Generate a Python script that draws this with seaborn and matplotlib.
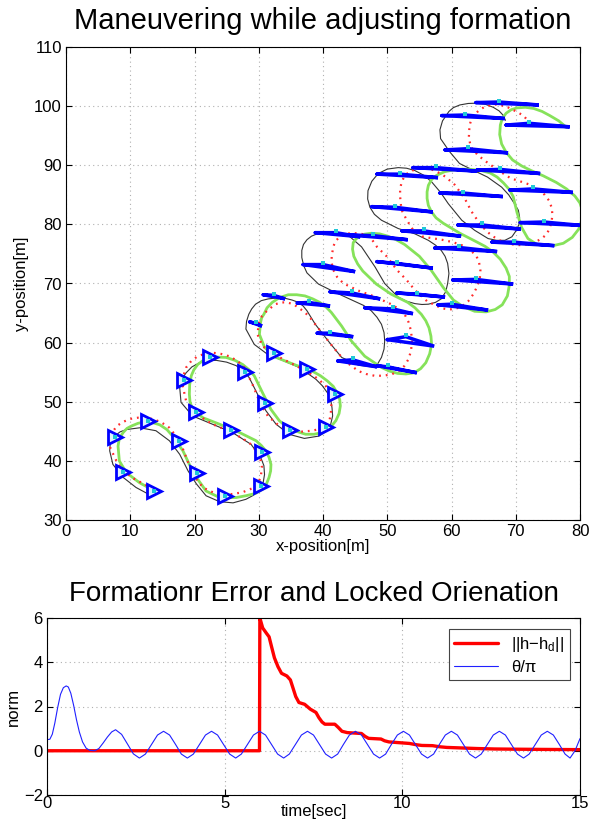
import numpy as np
import pandas as pd
import matplotlib
matplotlib.use("Agg")
import matplotlib.pyplot as plt
import seaborn as sns

# ---------------- top panel data (metres) ----------------
black_x = [13.3,10.9,8.9,7.3,6.8,6.9,7.6,8.4,9.4,11.5,14.0,16.1,17.7,19.0,20.3,21.8,23.9,26.0,28.0,29.2,
           30.1,30.7,30.9,30.8,30.3,28.8,25.9,22.8,19.7,17.9,17.7,18.0,18.7,19.6,20.8,22.0,23.4,25.0,26.5,27.6,28.5,29.8,31.1,32.7,34.7,37.1,39.4,40.5,41.2,41.5,41.4,41.2,40.7,39.9,38.9,36.3,33.7,31.4,29.3,28.0,
           28.1,28.45,28.9,29.5,30.4,31.5,32.8,34.1,35.2,36.2,36.9,37.5,38.8,40.8,42.9,45.5,47.5,48.5,49.1,49.5,49.6,49.5,49.1,48.4,47.5,46.3,44.9,41.9,39.3,37.5,37.0,36.7,36.7,36.96,37.5,38.2,39.2,40.3,41.6,42.9,
           44.2,46.0,48.1,49.6,51.7,53.0,54.3,55.4,56.4,57.5,58.4,59.1,59.4,59.6,59.4,59.0,58.4,57.5,56.4,54.3,51.7,49.1,48.0,47.3,46.95,47.0,47.6,48.6,50.0,51.7,53.0,54.3,55.7,56.9,58.3,59.5,61.6,63.6,65.7,67.0,68.3,69.4,70.1,70.5,70.6,70.4,69.8,68.9,67.8,
           65.6,63.3,61.25,59.7,58.3,58.2,58.6,59.6,60.3,61.3,62.6,63.85,65.3,66.5,67.4,68.0,68.4]
black_y = [34.1,35.5,37.2,39.4,41.7,43.1,44.2,44.9,45.3,45.6,45.1,43.4,41.1,38.3,36.1,34.1,33.1,32.9,33.5,34.2,
           35.2,36.4,37.7,39.2,40.6,42.8,44.8,46.2,47.6,49.9,52.4,53.8,54.9,55.9,56.6,56.95,57.0,56.7,56.1,55.2,54.1,51.3,48.5,46.2,44.5,43.8,44.2,45.0,46.2,47.6,49.0,50.3,51.5,52.7,53.8,55.8,57.0,58.0,59.7,62.3,
           63.6,64.8,65.7,66.5,67.1,67.4,67.55,67.5,67.2,66.8,66.2,65.4,63.1,60.3,57.5,56.2,55.9,56.4,57.5,58.9,60.3,61.7,63.1,64.3,65.4,66.3,67.0,68.5,69.9,71.8,73.0,74.4,75.6,76.6,77.4,78.0,78.45,78.6,78.55,78.3,
           77.9,76.2,72.8,70.0,67.7,67.0,66.6,66.45,66.5,66.8,67.4,68.6,70.0,71.7,73.4,74.6,75.6,76.5,77.3,78.4,79.3,80.7,81.7,82.9,84.3,85.7,87.3,88.6,89.35,89.6,89.5,89.1,88.3,87.2,85.4,83.5,80.7,79.0,77.6,77.3,77.3,77.9,79.0,80.0,81.2,82.4,83.5,85.0,86.3,
           88.0,89.2,90.3,92.3,94.5,96.0,97.5,99.1,99.75,100.2,100.45,100.5,100.3,99.8,99.2,98.5,97.6]

green_x = [13.8,11.45,9.4,8.3,8.1,8.3,8.9,9.5,10.2,11.2,12.2,13.4,14.6,15.7,16.6,18.2,19.2,20.3,21.8,23.9,26.5,
           28.0,29.5,30.6,31.2,31.6,31.85,31.9,31.6,31.1,30.4,29.6,27.0,23.9,21.3,19.7,19.3,19.2,19.25,19.5,19.9,20.5,21.3,22.3,23.6,24.9,26.3,27.5,28.5,29.3,30.6,31.9,33.2,34.7,37.3,38.6,39.9,41.1,42.0,42.5,42.7,42.6,42.2,41.6,40.7,39.6,38.3,35.5,32.7,30.9,30.1,
           30.3,30.45,30.8,31.3,32.1,33.2,34.6,35.9,37.2,38.4,39.5,40.5,41.3,42.9,44.4,46.5,49.1,50.3,51.6,52.9,54.2,55.2,56.0,56.6,56.9,56.8,56.5,56.0,55.3,54.3,53.2,50.6,48.3,46.2,45.4,44.8,44.6,44.7,45.1,45.7,46.5,47.5,48.8,50.1,51.4,52.7,55.0,56.8,58.8,60.3,61.8,
           63.6,65.4,66.8,67.9,68.7,69.0,69.0,68.5,67.6,66.4,65.2,63.8,61.3,58.7,57.6,56.9,56.4,56.2,56.2,56.4,56.9,57.7,58.9,60.3,61.7,63.1,64.6,66.0,67.1,68.1,69.0,69.6,
           70.2,70.9,71.9,73.3,75.8,77.4,78.8,79.8,80.3,80.4,80.0,79.2,77.9,76.3,74.3,72.4,70.9,69.5,68.5,67.8,67.5,67.6,67.9,68.5,69.3,70.2,71.5,72.8,74.1,75.3,76.7,77.9]
green_y = [34.9,36.3,38.0,40.0,42.5,43.8,44.8,45.5,45.9,46.35,46.6,46.5,46.1,45.3,44.2,41.7,39.4,37.2,34.9,33.8,33.8,
           34.1,34.5,35.2,36.1,37.2,38.3,39.4,40.6,41.7,42.6,43.4,44.8,46.2,47.3,48.7,50.0,51.3,52.9,54.4,55.4,56.3,56.95,57.4,57.55,57.5,57.0,56.3,55.4,54.4,51.5,48.7,46.8,45.4,44.5,44.5,44.8,45.6,46.8,48.0,49.3,50.4,51.5,52.6,53.5,54.4,55.2,56.3,57.5,59.2,61.4,
           63.5,64.2,64.8,65.9,66.8,67.6,68.1,68.1,67.9,67.4,66.8,66.0,65.1,62.8,60.3,57.7,55.8,55.2,54.8,54.7,54.9,55.6,56.6,58.1,59.7,61.1,62.5,63.7,64.8,65.9,66.8,68.2,69.9,72.1,73.3,74.6,75.8,76.9,77.5,78.0,78.35,78.5,78.4,78.0,77.4,76.6,74.6,72.3,69.2,67.2,66.1,
           65.3,65.2,65.6,66.4,67.9,69.7,71.2,72.6,74.1,75.4,76.3,77.1,78.5,80.2,81.1,82.1,83.2,84.4,85.5,86.6,87.6,88.3,88.9,89.2,89.35,89.3,89.1,88.7,88.0,87.0,85.9,84.7,
           82.0,79.5,77.6,76.6,76.4,76.8,77.8,79.2,80.8,82.2,83.6,84.8,86.0,87.1,88.2,89.1,89.9,90.9,92.2,93.6,95.2,96.8,97.9,98.8,99.4,99.7,99.8,99.6,99.1,98.4,97.5,96.4]

red_x = [13.5,10.2,8.1,6.9,6.85,7.2,7.9,8.9,10.0,11.2,12.5,13.8,15.0,16.1,17.7,18.7,19.7,21.3,23.4,24.7,26.0,27.5,29.3,29.9,30.3,30.5,30.1,28.5,25.9,22.8,20.3,18.7,18.1,18.3,18.7,19.5,20.5,21.6,22.8,24.1,25.4,26.7,27.75,29.0,30.1,31.4,33.2,35.2,36.7,38.3,39.5,40.4,41.0,41.2,41.3,41.2,40.9,40.4,39.4,38.3,35.8,32.9,30.6,29.8,
         30.0,30.5,31.3,32.6,33.5,34.4,35.4,36.2,37.2,38.0,39.8,41.6,43.4,45.5,46.7,48.0,49.3,50.6,51.8,52.7,53.3,53.7,53.85,53.7,53.3,52.7,51.8,50.6,48.0,45.5,43.2,42.2,41.6,41.35,41.35,41.6,41.9,42.5,43.3,44.2,45.5,46.8,47.7,48.4,49.9,51.5,53.0,54.3,56.2,58.5,59.7,60.8,61.8,62.6,63.4,64.0,64.4,64.5,64.3,63.9,63.0,61.8,60.2,58.5,55.6,54.0,53.0,52.2,52.0,52.0,52.2,52.6,53.2,54.3,55.5,56.6,57.6,59.0,60.5,62.05,63.1,64.1,65.4,66.4,67.5,68.7,70.0,71.4,72.8,73.9,74.8,75.3,75.6,75.7,75.6,75.2,74.5,73.6,72.5,70.9,69.2,67.2,65.4,64.1,63.0,62.7,62.8,63.1,63.7,64.4,65.2,66.2,67.2,68.6,69.7,71.2,72.3]
red_y = [35.3,37.2,39.4,42.2,43.5,44.8,45.9,46.6,47.1,47.3,47.3,47.0,46.4,45.6,43.4,40.6,37.8,35.5,34.4,34.3,34.4,34.7,35.5,36.3,37.2,38.9,41.1,43.1,44.8,46.2,47.9,50.1,53.0,54.5,55.8,56.9,57.7,58.1,58.3,58.1,57.7,56.9,55.8,53.0,50.1,47.6,45.9,45.1,44.95,45.1,45.4,45.9,46.8,47.9,49.3,50.7,51.8,52.7,53.7,54.6,56.1,57.7,59.4,61.4,
         63.3,64.5,65.4,66.5,66.8,66.8,66.5,65.9,65.1,64.2,61.7,59.2,56.9,55.2,54.7,54.4,54.4,54.6,55.2,56.1,57.2,58.6,60.3,62.0,63.5,64.8,65.7,66.5,67.8,68.8,70.0,71.1,72.3,73.5,74.6,76.2,77.1,77.8,78.3,78.5,78.5,78.2,77.3,76.2,74.6,72.3,70.6,68.9,67.0,65.8,65.6,65.8,66.3,67.0,68.2,69.5,70.8,72.2,73.5,74.6,75.6,76.4,77.0,77.4,77.9,79.1,80.8,82.5,84.7,85.9,87.0,88.0,88.7,89.3,89.5,89.4,89.0,88.1,86.7,84.4,82.2,80.6,78.9,78.0,77.3,76.8,76.5,76.5,76.9,77.5,78.3,79.4,80.6,81.7,82.8,84.0,85.0,85.9,86.6,87.2,87.8,89.2,90.6,91.7,93.1,94.7,96.7,97.8,98.7,99.4,99.9,100.2,100.3,99.9,99.3,98.4,97.0]

# compact formation (triangle markers) during the first half
tri_x = [13.7,8.8,7.7,12.7,17.6,20.4,24.8,30.3,30.5,25.7,20.2,18.3,22.4,27.8,30.9,34.8,40.4,41.8,37.5,32.4]
tri_y = [34.9,38.2,44.0,46.7,43.4,38.0,34.1,35.8,41.5,45.3,48.3,53.7,57.6,55.1,49.8,45.3,45.8,51.3,55.6,58.3]

# stretched formation triangles: left (black) vertex, centre (cyan) vertex, right (green) vertex
bar_x0 = [28.6,30.7,36.0,39.1,42.3,48.4,50.0,46.5,41.1,36.9,38.8,44.2,48.4,51.5,57.9,60.2,57.4,52.3,47.6,48.4,54.0,58.2,61.0,66.3,70.7,69.1,64.0,59.0,58.5,63.8,68.5]
bar_y0 = [63.5,68.1,66.7,61.6,56.9,56.1,60.5,65.9,68.6,73.2,78.6,78.2,73.7,68.4,66.4,70.6,76.0,78.9,83.0,88.5,89.6,85.3,79.9,77.0,80.3,85.8,89.2,92.6,98.4,100.6,96.8]
bar_cx = [29.5,32.3,37.8,41.1,44.6,50.1,52.9,50.9,44.5,40.0,42.0,47.8,51.5,54.6,60.0,63.8,61.1,55.7,51.2,52.0,57.6,61.8,64.7,69.7,74.4,72.7,67.6,62.6,62.1,67.4,72.1]
bar_cy = [63.3,68.0,66.8,61.6,57.1,55.9,61.0,65.7,68.4,73.2,78.6,78.1,73.4,68.2,66.5,70.7,76.1,78.9,82.9,88.5,89.6,85.3,79.9,77.0,80.4,86.0,89.3,92.8,98.5,100.7,97.1]
bar_x1 = [30.5,34.1,41.1,44.7,48.4,54.6,57.3,54.0,48.9,45.0,45.8,53.2,57.1,59.0,65.7,69.6,67.1,61.5,57.1,57.9,64.0,68.0,70.8,76.0,80.5,78.9,73.8,68.8,68.3,73.6,78.4]
bar_y1 = [62.8,67.4,66.2,61.0,55.9,54.9,59.4,64.9,67.4,72.0,77.9,77.4,72.6,67.7,65.5,69.9,75.4,78.0,82.1,87.9,89.0,84.7,79.2,76.4,79.8,85.4,88.6,92.1,97.9,100.2,96.5]

# ---------------- bottom panel data ----------------
err_t = [0.0,5.98,5.99,6.07,6.18,6.25,6.32,6.40,6.50,6.60,6.75,6.85,6.93,7.00,7.09,7.25,7.41,7.57,7.65,7.74,7.82,8.10,8.20,8.30,8.45,8.85,8.95,9.05,9.40,9.50,9.62,9.95,10.20,10.40,10.55,10.85,11.05,11.25,11.60,12.10,12.60,13.20,14.00,15.0]
err_v = [0.0,0.0,6.0,5.55,5.3,5.15,4.7,4.2,3.8,3.5,3.38,3.2,2.8,2.45,2.18,2.1,1.88,1.73,1.5,1.3,1.2,1.2,1.05,0.88,0.82,0.78,0.65,0.56,0.53,0.45,0.4,0.36,0.33,0.27,0.24,0.23,0.18,0.15,0.13,0.1,0.08,0.07,0.06,0.05]

th_t = [0.0,0.08,0.15,0.22,0.30,0.38,0.46,0.54,0.60,0.67,0.75,0.83,0.91,1.00,1.10,1.20,1.34,1.46,1.58,1.70,1.82,1.93,
        2.10,2.27,2.43,2.60,2.77,2.94,3.11,3.28,3.45,3.62,3.78,3.95,4.12,4.29,4.46,4.63,4.80,4.97,5.14,5.31,5.47,5.64,5.81,5.98,
        6.15,6.32,6.49,6.66,6.82,6.99,7.16,7.33,7.50,7.67,7.84,8.01,8.18,8.34,8.51,8.68,8.85,9.02,9.19,9.36,9.53,9.69,9.86,10.03,
        10.20,10.37,10.54,10.71,10.88,11.04,11.21,11.38,11.55,11.72,11.89,12.06,12.22,12.39,12.56,12.73,12.90,13.07,13.24,13.41,
        13.57,13.74,13.91,14.08,14.25,14.42,14.58,14.72,14.86,15.0]
th_v = [0.5,0.52,0.75,1.25,1.95,2.55,2.85,2.93,2.88,2.6,2.05,1.4,0.85,0.4,0.12,0.02,0.0,0.1,0.35,0.62,0.85,0.95,
        0.74,0.29,-0.14,-0.33,-0.15,0.28,0.71,0.88,0.71,0.28,-0.15,-0.33,-0.15,0.28,0.71,0.88,0.71,0.28,-0.15,-0.33,-0.15,0.28,0.71,0.88,
        0.71,0.28,-0.15,-0.33,-0.15,0.28,0.71,0.88,0.71,0.28,-0.15,-0.33,-0.15,0.28,0.71,0.88,0.71,0.28,-0.15,-0.33,-0.15,0.28,0.71,0.88,
        0.71,0.28,-0.15,-0.33,-0.15,0.28,0.71,0.88,0.71,0.28,-0.15,-0.33,-0.15,0.28,0.71,0.88,0.71,0.28,-0.15,-0.33,
        -0.15,0.28,0.71,0.88,0.71,0.28,-0.15,-0.33,0.0,0.55]

# ---------------- styling ----------------
sns.set_style("white")
plt.rcParams['font.family'] = ['Liberation Sans', 'DejaVu Sans']
plt.rcParams['mathtext.fontset'] = 'custom'
plt.rcParams['mathtext.rm'] = 'Liberation Sans'
plt.rcParams['mathtext.it'] = 'Liberation Sans'
for k in ['text.color', 'axes.labelcolor', 'xtick.color', 'ytick.color', 'axes.titlecolor']:
    plt.rcParams[k] = 'black'

fig = plt.figure(figsize=(6.01, 8.27), dpi=100)
ax1 = fig.add_axes([66/601, 1-520/827, 514/601, 473/827])
ax2 = fig.add_axes([47/601, 1-795/827, 533/601, 177/827])

def style_axes(ax):
    for s in ax.spines.values():
        s.set_color('black'); s.set_linewidth(0.8); s.set_visible(True)
    ax.grid(True, linestyle=(0, (1, 3)), color='#b0b0b0', linewidth=0.8)
    ax.tick_params(direction='in', length=4, width=0.8, labelsize=12, colors='black',
                   top=True, right=True, bottom=True, left=True, pad=3)

GREEN = '#86e25a'
sns.lineplot(x=black_x, y=black_y, sort=False, estimator=None, color='#333333', linewidth=0.8, ax=ax1)
sns.lineplot(x=green_x, y=green_y, sort=False, estimator=None, color=GREEN, linewidth=2.0, ax=ax1)
sns.lineplot(x=red_x, y=red_y, sort=False, estimator=None, color='#ff2a2a', linewidth=1.6,
             linestyle=(0, (0.8, 2.2)), ax=ax1)

for i in range(len(bar_x0)):
    ax1.plot([bar_x0[i], bar_cx[i], bar_x1[i], bar_x0[i]],
             [bar_y0[i], bar_cy[i], bar_y1[i], bar_y0[i]], color='#0000ff', linewidth=2.5,
             solid_joinstyle='miter', zorder=4)
ax1.scatter(bar_cx, np.array(bar_cy) + 0.25, s=7, marker='s', color='#20c8d8', zorder=5, linewidths=0)

ax1.plot(tri_x, tri_y, linestyle='none', marker='>', markersize=9.5, markeredgewidth=2.0,
         markeredgecolor='#0000ff', markerfacecolor='#dff4ff', zorder=4)
ax1.scatter(tri_x, tri_y, s=7, marker='s', color='#20c8d8', zorder=5, linewidths=0)

ax1.set_xlim(0, 80); ax1.set_ylim(30, 110)
ax1.set_xticks(range(0, 81, 10)); ax1.set_yticks(range(30, 111, 10))
style_axes(ax1)
ax1.set_xlabel('x-position[m]', fontsize=12, labelpad=0)
ax1.set_ylabel('y-position[m]', fontsize=12, labelpad=4)
ax1.set_title('Maneuvering while adjusting formation', fontsize=21, pad=13)

# bottom panel
df_err = pd.DataFrame({'t': err_t, 'v': err_v})
df_th = pd.DataFrame({'t': th_t, 'v': th_v})
sns.lineplot(data=df_err, x='t', y='v', sort=False, estimator=None, color='#ff0000', linewidth=2.4,
             ax=ax2, label=r'||h$-$h$_{\rm d}$||')
sns.lineplot(data=df_th, x='t', y='v', sort=False, estimator=None, color='#2020ff', linewidth=0.8,
             ax=ax2, label='θ/π')
ax2.set_xlim(0, 15); ax2.set_ylim(-2, 6)
ax2.set_xticks([0, 5, 10, 15]); ax2.set_yticks([-2, 0, 2, 4, 6])
style_axes(ax2)
ax2.tick_params(axis='x', pad=1)
ax2.set_xlabel('time[sec]', fontsize=12, labelpad=-5)
ax2.set_ylabel('norm', fontsize=12, labelpad=2)
ax2.set_title('Formationr Error and Locked Orienation', fontsize=20, pad=12)
leg = ax2.legend(loc='upper right', fontsize=12, frameon=True, fancybox=False, framealpha=1,
                 edgecolor='#444444', borderpad=0.35, handlelength=2.6, labelspacing=0.35,
                 bbox_to_anchor=(0.997, 0.985))
leg.get_frame().set_linewidth(0.8)

fig.savefig('out.png', dpi=100)
